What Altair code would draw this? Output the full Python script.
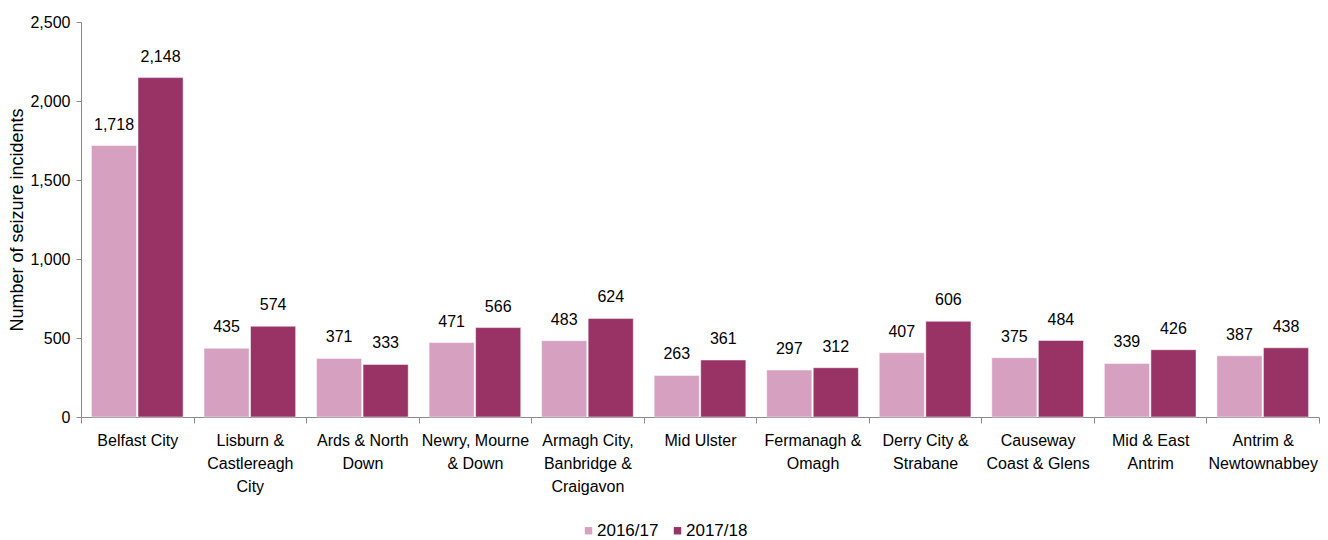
import altair as alt
import pandas as pd

categories = [
    "Belfast City",
    "Lisburn &|Castlereagh|City",
    "Ards & North|Down",
    "Newry, Mourne|& Down",
    "Armagh City,|Banbridge &|Craigavon",
    "Mid Ulster",
    "Fermanagh &|Omagh",
    "Derry City &|Strabane",
    "Causeway|Coast & Glens",
    "Mid & East|Antrim",
    "Antrim &|Newtownabbey",
]
series = ["2016/17", "2017/18"]
values_2016 = [1718, 435, 371, 471, 483, 263, 297, 407, 375, 339, 387]
values_2017 = [2148, 574, 333, 566, 624, 361, 312, 606, 484, 426, 438]
colors = ["#d6a0c0", "#993366"]
y_ticks = [0, 500, 1000, 1500, 2000, 2500]

rows = []
for c, a, b in zip(categories, values_2016, values_2017):
    rows.append({"area": c, "year": series[0], "value": a})
    rows.append({"area": c, "year": series[1], "value": b})
df = pd.DataFrame(rows)

FONT = "Liberation Sans"

x_enc = alt.X(
    "area:N",
    sort=categories,
    scale=alt.Scale(paddingInner=0, paddingOuter=0),
    axis=alt.Axis(
        title=None,
        labelExpr="split(datum.label, '|')",
        labelAngle=0,
        labelFontSize=16,
        labelLineHeight=23,
        labelColor="#000000",
        labelFont=FONT,
        labelPadding=9,
        tickBand="extent",
        tickSize=6,
        tickColor="#8a8a8a",
        domainColor="#8a8a8a",
        labelBaseline="top",
    ),
)
xoff_enc = alt.XOffset(
    "year:N",
    sort=series,
    scale=alt.Scale(paddingInner=0.03, paddingOuter=0.224),
)
y_enc = alt.Y(
    "value:Q",
    scale=alt.Scale(domain=[0, 2500], nice=False),
    axis=alt.Axis(
        title="Number of seizure incidents",
        titleFont=FONT,
        titleFontSize=18,
        titleFontWeight="normal",
        titleColor="#000000",
        titlePadding=3,
        values=y_ticks,
        format=",.0f",
        labelFontSize=16,
        labelFont=FONT,
        labelColor="#000000",
        labelPadding=6,
        tickSize=5,
        tickColor="#8a8a8a",
        domainColor="#8a8a8a",
        grid=False,
    ),
)

bars = alt.Chart(df).mark_bar(stroke="white", strokeWidth=0.5).encode(
    x=x_enc,
    xOffset=xoff_enc,
    y=y_enc,
    color=alt.Color(
        "year:N",
        sort=series,
        scale=alt.Scale(domain=series, range=colors),
        legend=alt.Legend(
            title=None,
            orient="none",
            direction="horizontal",
            legendX=499,
            legendY=500,
            symbolType="square",
            symbolSize=55,
            symbolStrokeWidth=0,
            labelFontSize=17,
            labelFont=FONT,
            labelColor="#000000",
            labelOffset=0,
            columnPadding=10,
            padding=0,
        ),
    ),
)

labels = alt.Chart(df).mark_text(
    baseline="alphabetic", dy=-16, fontSize=16, font=FONT, color="#000000"
).encode(
    x=alt.X("area:N", sort=categories),
    xOffset=alt.XOffset("year:N", sort=series),
    y=alt.Y("value:Q"),
    text=alt.Text("value:Q", format=","),
)

chart = (
    alt.layer(bars, labels)
    .properties(
        width=1238,
        height=395,
        padding={"left": 73, "top": 14, "right": 1, "bottom": 123},
        autosize=alt.AutoSizeParams(type="none"),
    )
    .configure_view(stroke=None)
)

chart.save("out.html", embed_options={"renderer": "svg", "actions": False})
